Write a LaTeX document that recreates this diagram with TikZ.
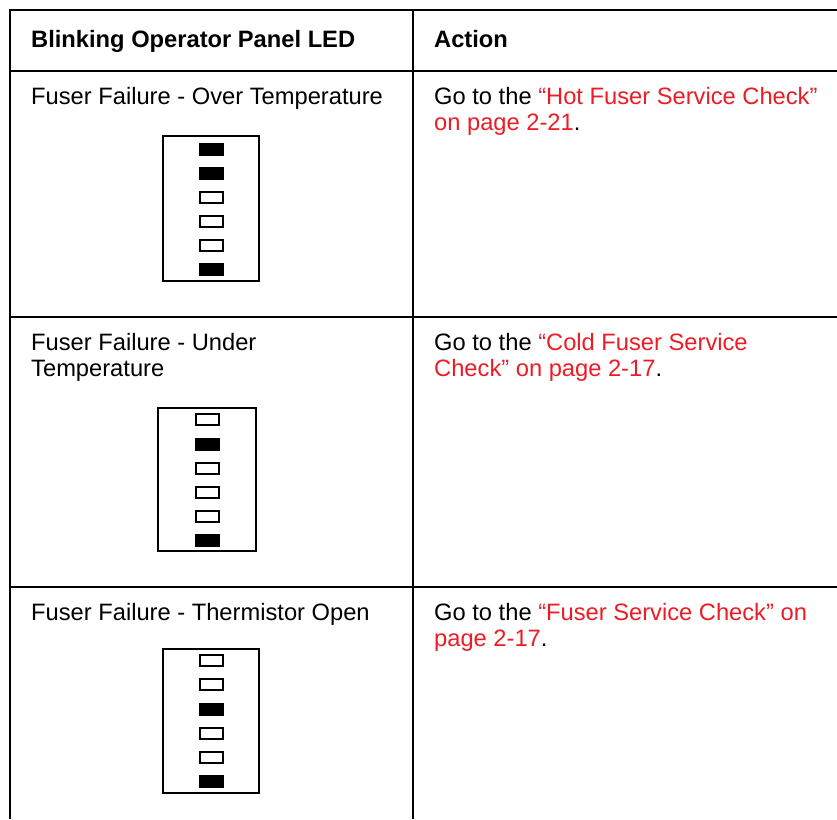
\documentclass[tikz,border=0pt]{standalone}
\usepackage{fontspec}
\setmainfont{Liberation Sans}
\usepackage{xcolor}
\usepackage{tikz}
\definecolor{linkred}{RGB}{237,28,36}

\begin{document}
\begin{tikzpicture}[x=1pt,y=-1pt,
    rule/.style={line width=2.2pt},
    panel/.style={draw,line width=2.2pt},
    ledon/.style={fill=black,minimum width=25pt,minimum height=13pt,inner sep=0pt},
    ledoff/.style={draw,line width=2pt,fill=white,minimum width=23pt,minimum height=11pt,inner sep=0pt},
    cell/.style={anchor=base west,inner sep=0pt,align=left,font=\fontsize{23.7}{26.5}\selectfont}]
   \useasboundingbox (0, 0) rectangle (837, 819);
   % table rules
   \draw[rule] (10, 819) |- (837, 10);
   \draw[rule] (10, 71) to (837, 71);
   \draw[rule] (10, 317) to (837, 317);
   \draw[rule] (10, 587) to (837, 587);
   \draw[rule] (413, 10) to (413, 819);
   % header
   \node[cell] (hled) at (31, 47) {\bfseries Blinking Operator Panel LED};
   \node[cell] (hact) at (434, 47) {\bfseries Action};
   % row 1 (two-line cells sit on their last baseline)
   \node[cell] (over) at (31, 104) {Fuser Failure - Over Temperature};
   \node[cell] (hot) at (434, 130.5) {Go to the \textcolor{linkred}{“Hot Fuser Service Check”}\\\textcolor{linkred}{on page 2-21}.};
   \draw[panel] (163, 136) rectangle (259, 281);
   \foreach \y/\s [count=\i] in {149/ledon, 173/ledon, 197/ledoff, 221/ledoff, 245/ledoff, 269/ledon}
      \node[\s] (a\i) at (211, \y) {};
   % row 2
   \node[cell] (under) at (31, 376.5) {Fuser Failure - Under\\Temperature};
   \node[cell] (cold) at (434, 376.5) {Go to the \textcolor{linkred}{“Cold Fuser Service}\\\textcolor{linkred}{Check” on page 2-17}.};
   \draw[panel] (158, 408) rectangle (256, 551);
   \foreach \y/\s [count=\i] in {419/ledoff, 444/ledon, 468/ledoff, 492/ledoff, 516/ledoff, 540/ledon}
      \node[\s] (b\i) at (207, \y) {};
   % row 3
   \node[cell] (open) at (31, 620) {Fuser Failure - Thermistor Open};
   \node[cell] (fuser) at (434, 646.5) {Go to the \textcolor{linkred}{“Fuser Service Check” on}\\\textcolor{linkred}{page 2-17}.};
   \draw[panel] (163, 649) rectangle (259, 793);
   \foreach \y/\s [count=\i] in {660/ledoff, 684/ledoff, 709/ledon, 733/ledoff, 757/ledoff, 781/ledon}
      \node[\s] (c\i) at (211, \y) {};
\end{tikzpicture}
\end{document}
